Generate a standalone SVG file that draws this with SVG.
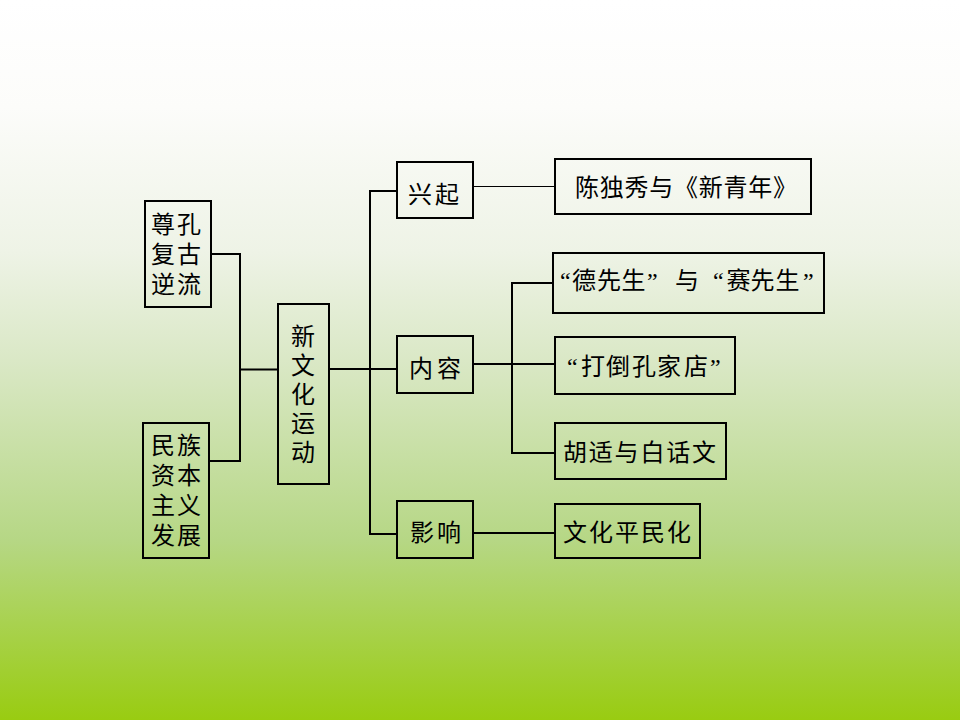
<svg xmlns="http://www.w3.org/2000/svg" width="960" height="720" viewBox="0 0 960 720">
<defs>
<linearGradient id="bg" x1="0" y1="0" x2="0" y2="1">
<stop offset="0" stop-color="#FFFFFF"/>
<stop offset="0.15" stop-color="#FCFCFA"/>
<stop offset="0.35" stop-color="#EEF3E6"/>
<stop offset="0.5" stop-color="#DAE8C6"/>
<stop offset="0.75" stop-color="#B6D785"/>
<stop offset="1" stop-color="#99CC11"/>
</linearGradient>
</defs>
<style>
.box{fill:none;stroke:#000;stroke-width:2}
.ln{fill:none;stroke:#000;stroke-width:2}
.thin{fill:none;stroke:#000;stroke-width:1}
text{font-family:"Liberation Serif","Noto Sans CJK SC",serif;font-size:24px;fill:#000}
.c{text-anchor:middle}
</style>
<rect x="0" y="0" width="960" height="720" fill="url(#bg)"/>
<g id="connectors">
<polyline class="ln" points="211,254 240,254 240,461 209,461"/>
<line class="ln" x1="240" y1="369.5" x2="278" y2="369.5"/>
<line class="ln" x1="329" y1="369" x2="397" y2="369"/>
<polyline class="ln" points="397,191 370,191 370,534 397,534"/>
<line class="thin" x1="473" y1="186.5" x2="555" y2="186.5"/>
<line class="ln" x1="473" y1="364" x2="555" y2="364"/>
<polyline class="ln" points="553,283 512,283 512,453 555,453"/>
<line class="ln" x1="473" y1="533" x2="555" y2="533"/>
</g>
<g id="n-zunkong">
<rect class="box" x="145" y="201" width="66" height="106"/>
<text x="151" y="233" textLength="50" lengthAdjust="spacing">尊孔</text>
<text x="151" y="263" textLength="50" lengthAdjust="spacing">复古</text>
<text x="151" y="293" textLength="50" lengthAdjust="spacing">逆流</text>
</g>
<g id="n-minzu">
<rect class="box" x="143" y="423" width="66" height="135"/>
<text x="151" y="454" textLength="50" lengthAdjust="spacing">民族</text>
<text x="151" y="484" textLength="50" lengthAdjust="spacing">资本</text>
<text x="151" y="514" textLength="50" lengthAdjust="spacing">主义</text>
<text x="151" y="544" textLength="50" lengthAdjust="spacing">发展</text>
</g>
<g id="n-xinwenhua">
<rect class="box" x="278" y="304" width="51" height="180"/>
<text class="c" x="303" y="345">新</text>
<text class="c" x="303" y="374">文</text>
<text class="c" x="303" y="403">化</text>
<text class="c" x="303" y="432">运</text>
<text class="c" x="303" y="461">动</text>
</g>
<g id="n-xingqi">
<rect class="box" x="397" y="162" width="76" height="56"/>
<text x="408" y="203" textLength="51" lengthAdjust="spacing">兴起</text>
</g>
<g id="n-neirong">
<rect class="box" x="397" y="336" width="76" height="57"/>
<text x="409" y="377" textLength="52" lengthAdjust="spacing">内容</text>
</g>
<g id="n-yingxiang">
<rect class="box" x="397" y="501" width="76" height="57"/>
<text x="410" y="541" textLength="51" lengthAdjust="spacing">影响</text>
</g>
<g id="n-chenduxiu">
<rect class="box" x="555" y="159" width="256" height="55"/>
<text x="575" y="195.5" textLength="222" lengthAdjust="spacing">陈独秀与《新青年》</text>
</g>
<g id="n-dexiansheng">
<rect class="box" x="553" y="253" width="271" height="60"/>
<text x="560 572 597 621.5 647 675 713 726.5 750.5 775.5 803" y="288.5">“德先生”与“赛先生”</text>
</g>
<g id="n-dadao">
<rect class="box" x="555" y="337" width="180" height="57"/>
<text x="567 581 606 632 657 684 710" y="375">“打倒孔家店”</text>
</g>
<g id="n-hushi">
<rect class="box" x="555" y="423" width="171" height="56"/>
<text x="563" y="461" textLength="153" lengthAdjust="spacing">胡适与白话文</text>
</g>
<g id="n-pingmin">
<rect class="box" x="555" y="504" width="145" height="54"/>
<text x="563" y="541" textLength="128" lengthAdjust="spacing">文化平民化</text>
</g>
</svg>
